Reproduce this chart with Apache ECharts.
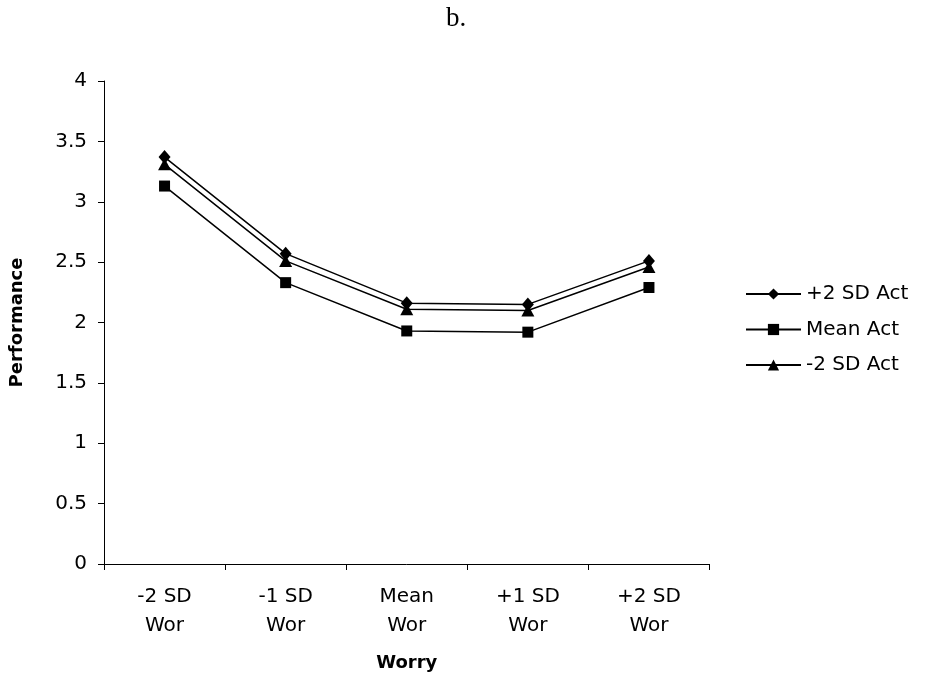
<!DOCTYPE html>
<html>
<head>
<meta charset="utf-8">
<script src="https://cdn.jsdelivr.net/npm/echarts@6/dist/echarts.min.js"></script>
<style>
  html, body { margin: 0; padding: 0; background: #fff; }
  #chart { width: 927px; height: 681px; }
</style>
</head>
<body>
<div id="chart"></div>
<script>
// Worry levels on the x axis
const categories = ['-2 SD\nWor', '-1 SD\nWor', 'Mean\nWor', '+1 SD\nWor', '+2 SD\nWor'];

// Performance for each activation level
const seriesNames = ['+2 SD Act', 'Mean Act', '-2 SD Act'];
const plus2Act = [3.37, 2.57, 2.16, 2.15, 2.51];
const meanAct  = [3.13, 2.33, 1.93, 1.92, 2.29];
const minus2Act = [3.31, 2.51, 2.11, 2.10, 2.46];

const yMin = 0, yMax = 4, yStep = 0.5;

const sans = '"DejaVu Sans", "Liberation Sans", Arial, sans-serif';
const ink = '#000';

function lineSeries(name, data, symbol, size) {
  return {
    name: name,
    type: 'line',
    data: data,
    symbol: symbol,
    symbolSize: size,
    showSymbol: true,
    lineStyle: { color: ink, width: 1.5 },
    itemStyle: { color: ink, borderColor: ink, borderWidth: 0 },
    emphasis: { disabled: true }
  };
}

const chart = echarts.init(document.getElementById('chart'), null, { renderer: 'canvas' });
chart.setOption({
  animation: false,
  backgroundColor: '#fff',
  title: {
    text: 'b.',
    left: 446,
    top: 5,
    padding: 0,
    textStyle: { fontFamily: '"Liberation Serif", "Times New Roman", serif', fontSize: 27, fontWeight: 'normal', color: ink }
  },
  grid: { left: 103, right: 217.5, top: 81, bottom: 117, containLabel: false },
  legend: {
    orient: 'vertical',
    left: 740,
    top: 278,
    itemWidth: 55,
    itemHeight: 14,
    itemGap: 13.5,
    data: seriesNames,
    textStyle: { fontFamily: sans, fontSize: 20, color: ink, lineHeight: 22 }
  },
  xAxis: {
    type: 'category',
    data: categories,
    boundaryGap: true,
    name: 'Worry',
    nameLocation: 'middle',
    nameGap: 90,
    nameTextStyle: { fontFamily: sans, fontSize: 18, fontWeight: 'bold', color: ink },
    axisLine: { lineStyle: { color: ink, width: 1 } },
    axisTick: { show: true, length: 6, alignWithLabel: false, lineStyle: { color: ink } },
    axisLabel: { fontFamily: sans, fontSize: 20, color: ink, lineHeight: 29, margin: 18, interval: 0 },
    splitLine: { show: false }
  },
  yAxis: {
    type: 'value',
    min: yMin,
    max: yMax,
    interval: yStep,
    name: 'Performance',
    nameLocation: 'middle',
    nameRotate: 90,
    nameGap: 78,
    nameTextStyle: { fontFamily: sans, fontSize: 18, fontWeight: 'bold', color: ink },
    axisLine: { show: true, lineStyle: { color: ink, width: 1 } },
    axisTick: { show: true, length: 6, lineStyle: { color: ink } },
    axisLabel: { fontFamily: sans, fontSize: 20, color: ink, margin: 17 },
    splitLine: { show: false }
  },
  series: [
    lineSeries(seriesNames[0], plus2Act, 'diamond', [12, 14]),
    lineSeries(seriesNames[1], meanAct, 'rect', 11),
    lineSeries(seriesNames[2], minus2Act, 'triangle', [13, 12])
  ]
});
</script>
</body>
</html>
